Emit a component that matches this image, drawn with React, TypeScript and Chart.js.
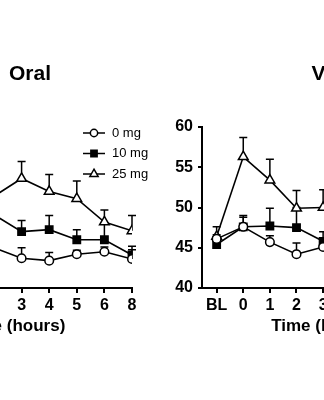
import React, { useEffect, useRef } from 'react';
import { Chart, registerables } from 'chart.js';

Chart.register(...registerables);

const FONT = '"Liberation Sans", Arial, sans-serif';

const categories = ['BL', '0', '1', '2', '3', '4', '5', '6', '8'];
const yTicks = [40, 45, 50, 55, 60];
const seriesNames = ['0 mg', '10 mg', '25 mg'];
const axisTitle = 'Time (hours)';

// Oral panel (left) — early time points lie outside the visible crop
const oral0 = [null, null, null, 45.0, 43.7, 43.4, 44.2, 44.5, 43.6];
const oral0Err = [null, null, null, 0.8, 1.3, 1.0, 0.5, 0.6, 1.15];
const oral10 = [null, null, null, 49.1, 47.0, 47.25, 46.0, 46.0, 44.1];
const oral10Err = [null, null, null, 1.5, 1.4, 1.75, 1.25, 2.0, 1.1];
const oral25 = [null, null, null, 51.4, 53.6, 52.0, 51.1, 48.2, 47.1];
const oral25Err = [null, null, null, 2.0, 2.1, 2.1, 2.2, 1.5, 1.9];

// Vapor panel (right) — later time points lie outside the visible crop
const vapor0 = [46.1, 47.6, 45.7, 44.2, 45.1, null, null, null, null];
const vapor0Err = [0.5, 1.4, 0.8, 1.4, 0.8, null, null, null, null];
const vapor10 = [45.4, 47.6, 47.7, 47.5, 45.8, null, null, null, null];
const vapor10Err = [1.0, 1.2, 2.2, 2.5, 1.2, null, null, null, null];
const vapor25 = [46.4, 56.3, 53.4, 49.9, 50.0, null, null, null, null];
const vapor25Err = [1.2, 2.4, 2.6, 2.2, 2.2, null, null, null, null];

type Num = number | null;

const styles = [
  { pointStyle: 'circle', radius: 4.3, fill: '#ffffff' },
  { pointStyle: 'rect', radius: 5.2, fill: '#000000' },
  { pointStyle: 'triangle', radius: 5.6, fill: '#ffffff' },
];

function toPoints(vals: Num[]) {
  return vals.map((v, i) => ({ x: i, y: v }));
}

function makeDatasets(series: Num[][]) {
  return series.map((vals, i) => ({
    label: seriesNames[i],
    data: toPoints(vals),
    borderColor: '#000',
    borderWidth: 1.6,
    pointStyle: styles[i].pointStyle,
    pointRadius: styles[i].radius,
    pointBackgroundColor: styles[i].fill,
    pointBorderColor: '#000',
    pointBorderWidth: 1.5,
    tension: 0,
    spanGaps: false,
  }));
}

function errorBarPlugin(errs: Num[][]) {
  return {
    id: 'errorBars',
    beforeDatasetsDraw(chart: any) {
      const { ctx } = chart;
      const xs = chart.scales.x;
      const ys = chart.scales.y;
      ctx.save();
      ctx.strokeStyle = '#000';
      ctx.lineWidth = 1.5;
      chart.data.datasets.forEach((ds: any, di: number) => {
        ds.data.forEach((p: any) => {
          const e = errs[di][p.x];
          if (p.y == null || e == null) return;
          const px = xs.getPixelForValue(p.x);
          const py = ys.getPixelForValue(p.y);
          const pt = ys.getPixelForValue(p.y + e);
          ctx.beginPath();
          ctx.moveTo(px, py);
          ctx.lineTo(px, pt);
          ctx.moveTo(px - 4, pt);
          ctx.lineTo(px + 4, pt);
          ctx.stroke();
        });
      });
      ctx.restore();
    },
  };
}

function drawMarker(ctx: CanvasRenderingContext2D, style: string, x: number, y: number, r: number, fill: string) {
  ctx.beginPath();
  if (style === 'circle') {
    ctx.arc(x, y, r, 0, Math.PI * 2);
  } else if (style === 'rect') {
    const s = Math.SQRT1_2 * r;
    ctx.rect(x - s, y - s, 2 * s, 2 * s);
  } else {
    ctx.moveTo(x, y - r);
    ctx.lineTo(x + r * Math.sin((2 * Math.PI) / 3), y - r * Math.cos((2 * Math.PI) / 3));
    ctx.lineTo(x + r * Math.sin((4 * Math.PI) / 3), y - r * Math.cos((4 * Math.PI) / 3));
    ctx.closePath();
  }
  ctx.fillStyle = fill;
  ctx.fill();
  ctx.lineWidth = 1.5;
  ctx.strokeStyle = '#000';
  ctx.stroke();
}

const legendPlugin = {
  id: 'sideLegend',
  afterDraw(chart: any) {
    const { ctx, chartArea } = chart;
    const x0 = chartArea.right - 49;
    chart.data.datasets.forEach((ds: any, i: number) => {
      const y = chartArea.top + 6 + i * 20.5;
      ctx.save();
      ctx.strokeStyle = '#000';
      ctx.lineWidth = 1.5;
      ctx.beginPath();
      ctx.moveTo(x0, y);
      ctx.lineTo(x0 + 22, y);
      ctx.stroke();
      drawMarker(ctx, ds.pointStyle, x0 + 11, y, ds.pointRadius * 0.85, ds.pointBackgroundColor);
      ctx.fillStyle = '#000';
      ctx.font = `13px ${FONT}`;
      ctx.textBaseline = 'middle';
      ctx.textAlign = 'left';
      ctx.fillText(ds.label, x0 + 29, y);
      ctx.restore();
    });
  },
};

function makeOptions(xMax: number, padLeft: number, padRight: number) {
  return {
    responsive: false,
    animation: false as const,
    events: [] as any[],
    layout: { padding: { left: padLeft, right: padRight, top: 127, bottom: 52 } },
    plugins: { legend: { display: false }, tooltip: { enabled: false }, title: { display: false } },
    scales: {
      x: {
        type: 'linear' as const,
        min: -0.55,
        max: xMax,
        afterBuildTicks: (s: any) => {
          s.ticks = categories.map((_, i) => ({ value: i }));
        },
        afterFit: (s: any) => {
          s.height = 60;
        },
        ticks: {
          autoSkip: false,
          maxRotation: 0,
          padding: 3,
          color: '#000',
          font: { family: FONT, size: 16, weight: 'bold' as const },
          callback: (v: any) => categories[v] ?? '',
        },
        grid: { display: true, drawOnChartArea: false, drawTicks: true, tickLength: 5, lineWidth: 2, color: '#000', tickColor: '#000' },
        border: { display: true, color: '#000', width: 2 },
        title: {
          display: true,
          text: axisTitle,
          color: '#000',
          font: { family: FONT, size: 17, weight: 'bold' as const },
          padding: { top: 0, bottom: 11 },
        },
      },
      y: {
        type: 'linear' as const,
        min: 40,
        max: 60,
        afterBuildTicks: (s: any) => {
          s.ticks = yTicks.map((v) => ({ value: v }));
        },
        afterFit: (s: any) => {
          s.width = 52;
        },
        ticks: {
          padding: 5,
          color: '#000',
          font: { family: FONT, size: 16, weight: 'bold' as const },
        },
        grid: { display: true, drawOnChartArea: false, drawTicks: true, tickLength: 4, lineWidth: 2, color: '#000', tickColor: '#000' },
        border: { display: true, color: '#000', width: 2 },
      },
    },
  };
}

export default function App() {
  const leftRef = useRef<HTMLCanvasElement>(null);
  const rightRef = useRef<HTMLCanvasElement>(null);

  useEffect(() => {
    const left = new Chart(leftRef.current!, {
      type: 'line',
      data: { datasets: makeDatasets([oral0, oral10, oral25]) as any },
      options: makeOptions(8, 44, 18) as any,
      plugins: [errorBarPlugin([oral0Err, oral10Err, oral25Err]), legendPlugin],
    });
    const right = new Chart(rightRef.current!, {
      type: 'line',
      data: { datasets: makeDatasets([vapor0, vapor10, vapor25]) as any },
      options: makeOptions(8.5, 0, 0) as any,
      plugins: [errorBarPlugin([vapor0Err, vapor10Err, vapor25Err])],
    });
    return () => {
      left.destroy();
      right.destroy();
    };
  }, []);

  const titleStyle: React.CSSProperties = {
    position: 'absolute',
    top: 62,
    font: `bold 21px ${FONT}`,
    lineHeight: '21px',
    color: '#000',
    whiteSpace: 'nowrap',
  };

  return (
    <div
      style={{
        position: 'fixed',
        left: 0,
        top: 0,
        width: 324,
        height: 400,
        overflow: 'hidden',
        background: '#fff',
      }}
    >
      <canvas ref={leftRef} width={350} height={400} style={{ position: 'absolute', left: -200, top: 0 }} />
      <canvas ref={rightRef} width={300} height={400} style={{ position: 'absolute', left: 150, top: 0 }} />
      <div style={{ ...titleStyle, left: 9 }}>Oral</div>
      <div style={{ ...titleStyle, left: 311.5 }}>Vapor</div>
    </div>
  );
}
